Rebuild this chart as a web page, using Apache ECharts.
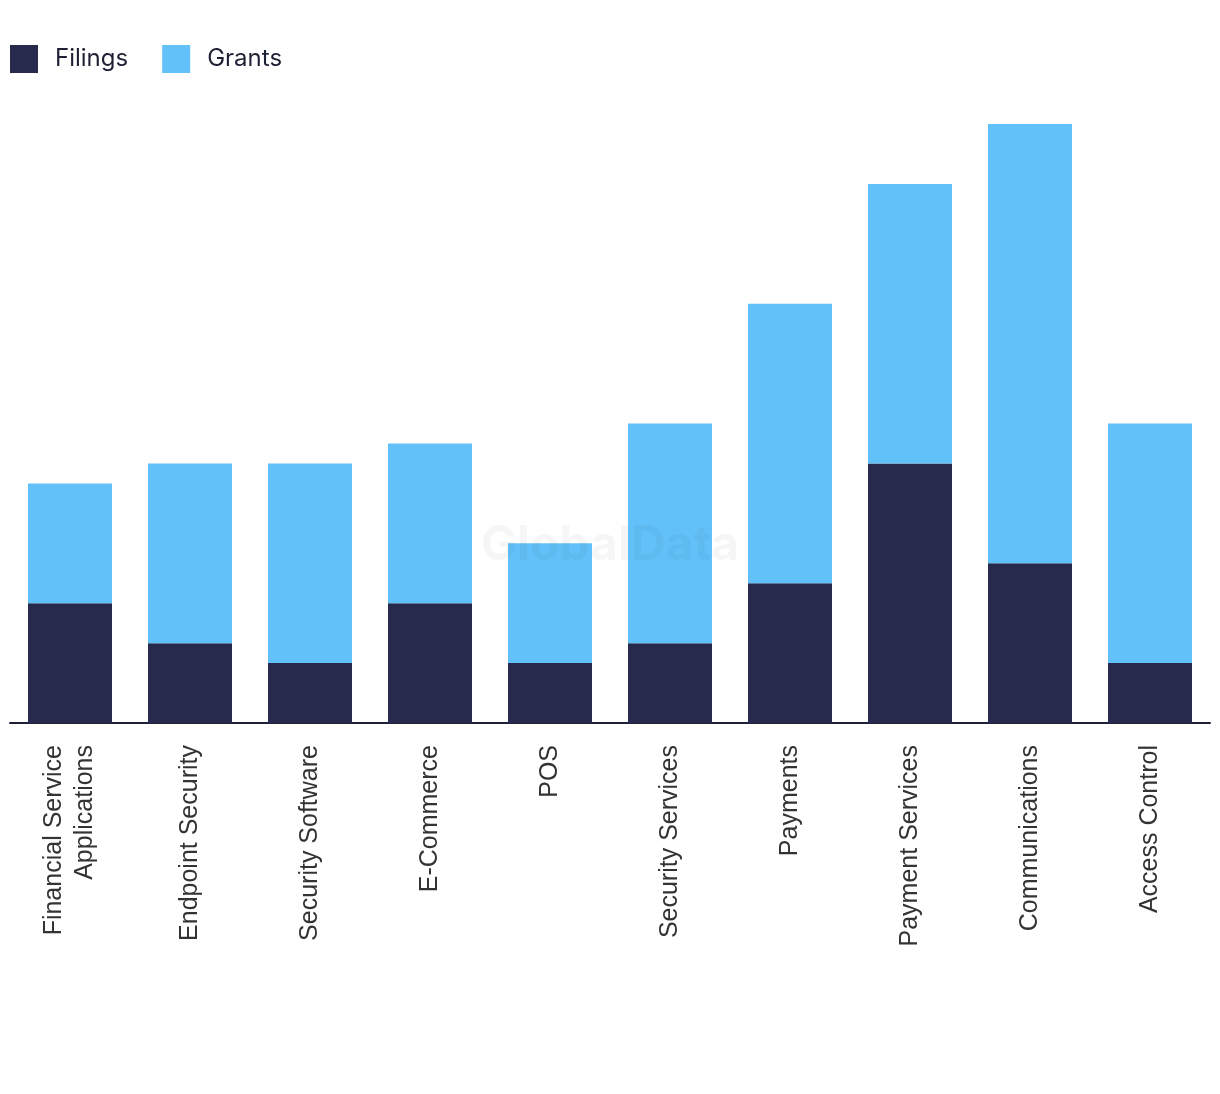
<!DOCTYPE html>
<html>
<head>
<meta charset="utf-8">
<script src="https://cdn.jsdelivr.net/npm/echarts@6/dist/echarts.min.js"></script>
<style>html,body{margin:0;padding:0;background:#fff}#c{width:1220px;height:1094px}</style>
</head>
<body>
<div id="c"></div>
<script>
const categories = ["Financial Service\nApplications","Endpoint Security","Security Software","E-Commerce","POS","Security Services","Payments","Payment Services","Communications","Access Control"];
const filings = [6,4,3,6,3,4,7,13,8,3];
const grants = [6,9,10,8,6,11,14,14,22,12];

const chart = echarts.init(document.getElementById('c'));
chart.setOption({
  animation:false,
  legend:{
    left:10, top:45, padding:0, itemWidth:28, itemHeight:28, itemGap:34, icon:'rect',
    textStyle:{fontFamily:'Inter', fontSize:24, color:'#1e2033', padding:[0,0,0,12]},
    data:['Filings','Grants']
  },
  graphic:[{type:'text', left:'center', top:522, z:10, style:{text:'GlobalData', fontFamily:'Inter', fontWeight:'bold', fontSize:48, fill:'rgba(0,0,0,0.035)'}}],
  grid:{left:10, right:10, top:124, bottom:371, containLabel:false},
  xAxis:{
    type:'category', data:categories,
    axisLine:{lineStyle:{color:'#1e2033', width:2}},
    axisTick:{show:false},
    axisLabel:{interval:0, rotate:90, margin:22, fontFamily:'Liberation Sans', fontSize:25, lineHeight:31, color:'#333'}
  },
  yAxis:{type:'value', min:0, max:30, show:false, splitLine:{show:false}},
  series:[
    {name:'Filings', type:'bar', stack:'a', data:filings, barWidth:'70%', itemStyle:{color:'#272a4c'}},
    {name:'Grants', type:'bar', stack:'a', data:grants, barWidth:'70%', itemStyle:{color:'#63c1f9'}}
  ]
});
</script>
</body>
</html>
